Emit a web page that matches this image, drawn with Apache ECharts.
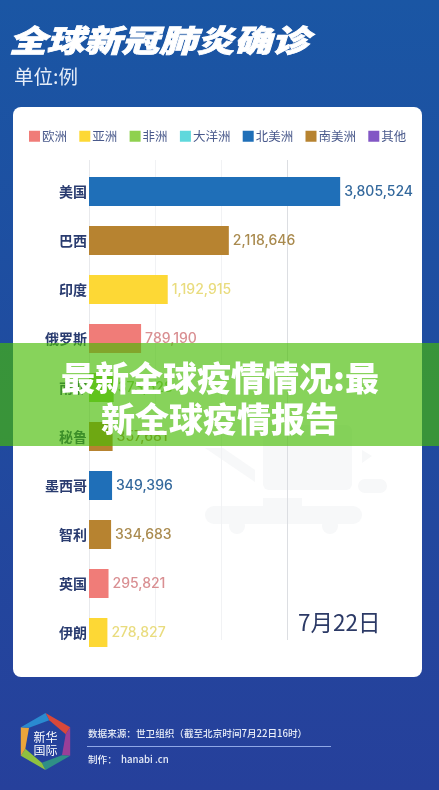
<!DOCTYPE html>
<html>
<head>
<meta charset="utf-8">
<style>
html, body { margin: 0; padding: 0; background: #1f4c9f; }
#chart { width: 439px; height: 790px; }
</style>
<script src="https://cdn.jsdelivr.net/npm/echarts@6/dist/echarts.min.js"></script>
</head>
<body>
<div id="chart"></div>
<script>
const countries = ["美国", "巴西", "印度", "俄罗斯", "南非", "秘鲁", "墨西哥", "智利", "英国", "伊朗"];
const cases = [3805524, 2118646, 1192915, 789190, 373628, 357681, 349396, 334683, 295821, 278827];
const countryContinent = ["北美洲", "南美洲", "亚洲", "欧洲", "非洲", "南美洲", "北美洲", "南美洲", "欧洲", "亚洲"];
const continents = ["欧洲", "亚洲", "非洲", "大洋洲", "北美洲", "南美洲", "其他"];
const gridTicks = [0, 1000000, 2000000, 3000000];

const barColors = ["#f07c78", "#fdd835", "#8fd14f", "#5fd8dc", "#1f6fb8", "#b78330", "#8257c5"];
const labelColors = ["#d98f92", "#e9dc7e", "#8cc860", "#5fd8dc", "#33689c", "#a98a4e", "#8257c5"];

const cjk = '"Noto Sans CJK SC"';
const navy = "#2a3c70";

const series = continents.map((name, i) => ({
    name: name,
    type: "bar",
    stack: "cases",
    xAxisIndex: 1,
    yAxisIndex: 1,
    barWidth: 29,
    itemStyle: { color: barColors[i] },
    label: {
        show: true,
        position: "right",
        distance: 4,
        color: labelColors[i],
        fontFamily: "Inter",
        fontWeight: 500,
        fontSize: 14,
        formatter: p => p.value.toLocaleString("en-US")
    },
    data: cases.map((v, j) => (countryContinent[j] === name ? v : null))
}));

// 로고 링
const logoColors = ["#d8483a", "#9a3f98", "#2f8f86", "#8fc13f", "#eca53a", "#2a8ad0"];
const logoCenter = [45.5, 741.5];
const hexPoint = (r, deg) => [
    logoCenter[0] + r * Math.sin(deg * Math.PI / 180),
    logoCenter[1] - r * Math.cos(deg * Math.PI / 180)
];
const logoRing = logoColors.map((color, i) => ({
    type: "polygon",
    z: 5,
    shape: {
        points: [
            hexPoint(28.5, i * 60),
            hexPoint(28.5, (i + 1) * 60),
            hexPoint(21.5, (i + 1) * 60 + 10),
            hexPoint(21.5, i * 60 + 10)
        ]
    },
    style: { fill: color }
}));

const watermark = "#f7f8f9";
const background = [
    { type: "rect", z: -2, shape: { x: 13, y: 107, width: 409, height: 570, r: 8 }, style: { fill: "#ffffff" } },
    { type: "rect", z: -1, shape: { x: 263, y: 425, width: 89, height: 65, r: 6 }, style: { fill: watermark } },
    { type: "rect", z: -1, shape: { x: 263, y: 498, width: 39, height: 10 }, style: { fill: watermark } },
    { type: "rect", z: -1, shape: { x: 205, y: 506, width: 157, height: 18, r: 9 }, style: { fill: watermark } },
    { type: "circle", z: -1, shape: { cx: 237, cy: 526, r: 8 }, style: { fill: watermark } },
    { type: "circle", z: -1, shape: { cx: 330, cy: 526, r: 8 }, style: { fill: watermark } },
    { type: "polygon", z: -1, shape: { points: [[205, 448], [223, 448], [255, 470], [255, 482]] }, style: { fill: watermark } },
    { type: "polygon", z: -1, shape: { points: [[362, 450], [372, 456], [362, 463]] }, style: { fill: watermark } },
    { type: "rect", z: -1, shape: { x: 358, y: 479, width: 29, height: 14, r: 7 }, style: { fill: watermark } }
];

const texts = [
    {
        type: "text", z: 5, x: 9, y: 40, scaleY: 0.82,
        style: {
            text: "全球新冠肺炎确诊", fill: "#ffffff", verticalAlign: "middle",
            stroke: "#ffffff", lineWidth: 1,
            font: `italic 900 37.5px ${cjk}`
        }
    },
    {
        type: "text", z: 5, x: 14, y: 67,
        style: { text: "单位:例", fill: "#e6edf8", font: `400 19.5px ${cjk}` }
    },
    {
        type: "text", z: 5, x: 298, y: 611,
        style: { text: "7月22日", fill: "#2c3a66", font: `400 22.5px ${cjk}` }
    },
    {
        type: "text", z: 100, x: 220, y: 378,
        style: {
            text: "最新全球疫情情况:最", fill: "#ffffff", align: "center", verticalAlign: "middle",
            font: `900 34px ${cjk}`, shadowBlur: 3, shadowColor: "rgba(0,0,0,0.45)", shadowOffsetY: 1
        }
    },
    {
        type: "text", z: 100, x: 220, y: 419,
        style: {
            text: "新全球疫情报告", fill: "#ffffff", align: "center", verticalAlign: "middle",
            font: `900 34px ${cjk}`, shadowBlur: 3, shadowColor: "rgba(0,0,0,0.45)", shadowOffsetY: 1
        }
    },
    {
        type: "text", z: 6, x: 45.5, y: 737,
        style: { text: "新华", fill: "#ffffff", align: "center", verticalAlign: "middle", font: `400 12px ${cjk}` }
    },
    {
        type: "text", z: 6, x: 45.5, y: 750,
        style: { text: "国际", fill: "#ffffff", align: "center", verticalAlign: "middle", font: `400 12px ${cjk}` }
    },
    {
        type: "text", z: 5, x: 88, y: 733,
        style: { text: "数据来源：世卫组织（截至北京时间7月22日16时）", fill: "#e8edf8", verticalAlign: "middle", font: `500 9.6px ${cjk}` }
    },
    {
        type: "line", z: 5, shape: { x1: 87, y1: 746.5, x2: 331, y2: 746.5 },
        style: { stroke: "#8fa8e6", lineWidth: 1 }
    },
    {
        type: "text", z: 5, x: 88, y: 759.5,
        style: { text: "制作：  hanabi .cn", fill: "#e8edf8", verticalAlign: "middle", font: `500 9.6px ${cjk}` }
    }
];

const banner = {
    type: "rect", z: 99,
    shape: { x: 0, y: 343, width: 439, height: 103 },
    style: { fill: "rgba(71,187,3,0.65)" }
};

const option = {
    animation: false,
    backgroundColor: new echarts.graphic.LinearGradient(0, 0, 0, 1, [
        { offset: 0, color: "#1a56a4" },
        { offset: 1, color: "#26409b" }
    ]),
    legend: {
        left: 29,
        top: 130,
        padding: 0,
        itemWidth: 11,
        itemHeight: 11,
        itemGap: 12.3,
        icon: "rect",
        data: continents,
        selectedMode: false,
        textStyle: { color: "#4a5a8c", fontFamily: cjk, fontSize: 12.5, padding: [0, 0, 0, -3] }
    },
    // 격자선 전용 그리드와 막대 그리드를 나눔
    grid: [
        { left: 89, top: 160, width: 198, height: 480 },
        { left: 89, top: 167, width: 330, height: 490 }
    ],
    xAxis: [
        {
            type: "value", gridIndex: 0, min: gridTicks[0], max: gridTicks[3], interval: gridTicks[1],
            axisLine: { show: false }, axisTick: { show: false }, axisLabel: { show: false },
            splitLine: { show: true, lineStyle: { color: ["#e8e9ec", "#f1f2f4", "#f1f2f4", "#dcdee2"], width: 1 } }
        },
        {
            type: "value", gridIndex: 1, min: 0, max: 5000000,
            axisLine: { show: false }, axisTick: { show: false }, axisLabel: { show: false },
            splitLine: { show: false }
        }
    ],
    yAxis: [
        {
            type: "category", gridIndex: 0, data: countries, inverse: true,
            axisLine: { show: false }, axisTick: { show: false }, axisLabel: { show: false }
        },
        {
            type: "category", gridIndex: 1, data: countries, inverse: true,
            axisLine: { show: false }, axisTick: { show: false }, splitLine: { show: false },
            axisLabel: { color: navy, fontFamily: cjk, fontWeight: 600, fontSize: 14, margin: 2 }
        }
    ],
    series: series,
    graphic: { elements: [...background, ...logoRing, ...texts, banner] }
};

const chart = echarts.init(document.getElementById("chart"), null, { renderer: "canvas" });
chart.setOption(option);
</script>
</body>
</html>
